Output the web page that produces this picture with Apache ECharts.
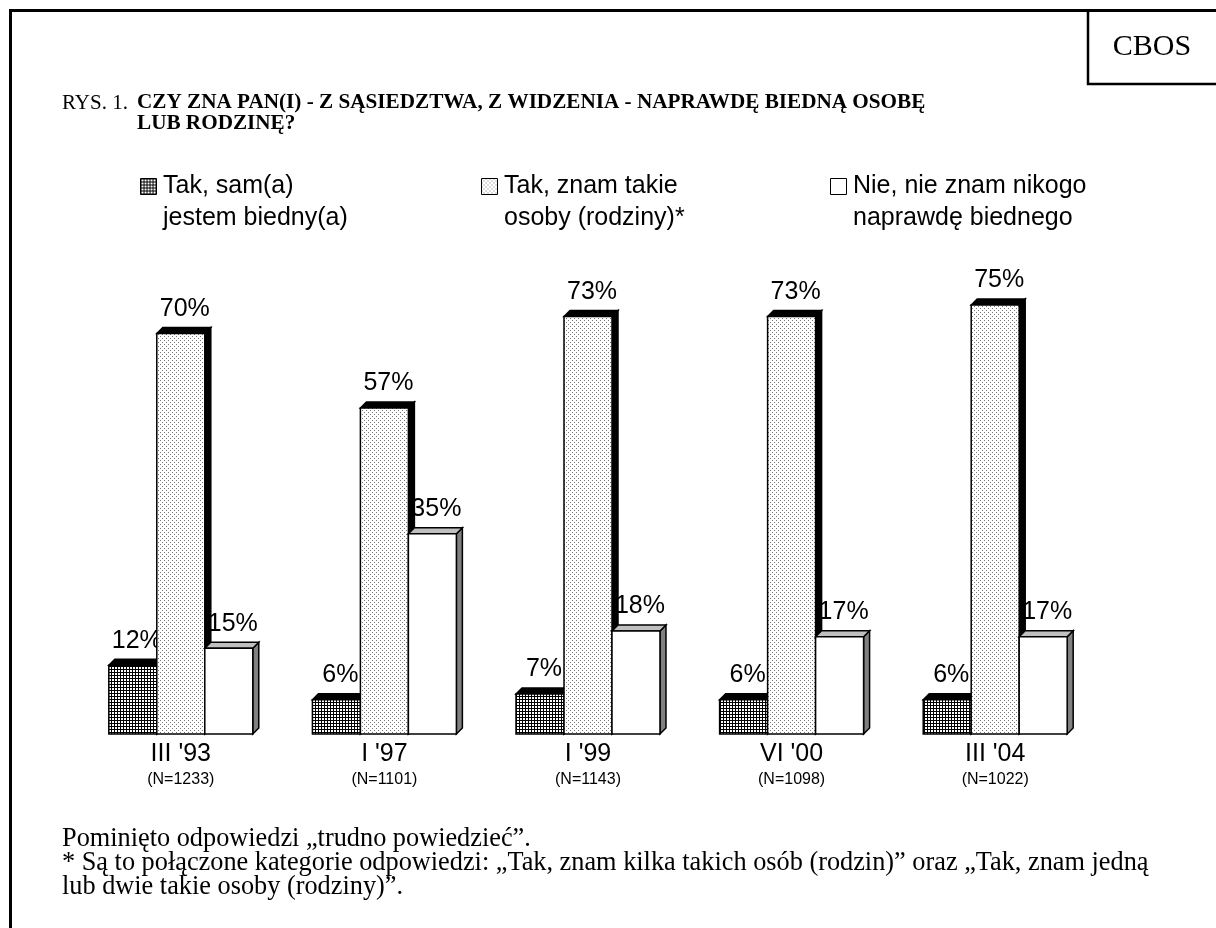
<!DOCTYPE html>
<html>
<head>
<meta charset="utf-8">
<script src="https://cdn.jsdelivr.net/npm/echarts@6/dist/echarts.min.js"></script>
<style>
html,body{margin:0;padding:0;background:#fff;}
#chart{width:1216px;height:928px;}
</style>
</head>
<body>
<div id="chart"></div>
<script>
// ---- data ----
const categories = ["III '93", "I '97", "I '99", "VI '00", "III '04"];
const sampleSizes = ["(N=1233)", "(N=1101)", "(N=1143)", "(N=1098)", "(N=1022)"];
const seriesNames = ["Tak, sam(a)\njestem biedny(a)", "Tak, znam takie\nosoby (rodziny)*", "Nie, nie znam nikogo\nnaprawdę biednego"];
const poorSelf = [12, 6, 7, 6, 6];
const knowPoor = [70, 57, 73, 73, 75];
const knowNone = [15, 35, 18, 17, 17];
const titlePrefix = "RYS. 1.";
const titleLines = ["CZY ZNA PAN(I) - Z SĄSIEDZTWA, Z WIDZENIA - NAPRAWDĘ BIEDNĄ OSOBĘ", "LUB RODZINĘ?"];
const footLines = ["Pominięto odpowiedzi „trudno powiedzieć”.",
  "* Są to połączone kategorie odpowiedzi: „Tak, znam kilka takich osób (rodzin)” oraz „Tak, znam jedną",
  "lub dwie takie osoby (rodziny)”."];
const brand = "CBOS";

// ---- patterns ----
function gridPattern() {
  const c = document.createElement('canvas'); c.width = 3; c.height = 3;
  const g = c.getContext('2d');
  g.fillStyle = '#fff'; g.fillRect(0, 0, 3, 3);
  g.fillStyle = '#000'; g.fillRect(0, 0, 3, 1); g.fillRect(0, 0, 1, 3);
  return { image: c, repeat: 'repeat' };
}
function dotPattern() {
  const c = document.createElement('canvas'); c.width = 4; c.height = 4;
  const g = c.getContext('2d');
  g.fillStyle = '#fff'; g.fillRect(0, 0, 4, 4);
  g.fillStyle = '#777'; g.fillRect(0, 0, 1, 1); g.fillRect(2, 2, 1, 1);
  return { image: c, repeat: 'repeat' };
}
const fills = [gridPattern(), dotPattern(), '#ffffff'];
const topFills = ['#000000', '#000000', '#c0c0c0'];
const sideFills = ['#000000', '#000000', '#808080'];

const LABEL_FONT = '25px "Liberation Sans", Arial, sans-serif';

function renderBar(params, api) {
  const si = params.seriesIndex;
  const cat = api.value(0), val = api.value(1);
  const base = api.coord([cat, 0]);
  const top = api.coord([cat, val]);
  const cw = api.size([1, 0])[0];
  const bw = cw * 0.2357;
  const d = 6;
  const x0 = base[0] + (si - 1.5) * bw;
  const x1 = x0 + bw;
  const ty = top[1], by = base[1];
  const stroke = { stroke: '#000', lineWidth: 1.5 };
  return {
    type: 'group',
    children: [
      { type: 'polygon', shape: { points: [[x1, ty], [x1 + d, ty - d], [x1 + d, by - d], [x1, by]] },
        style: Object.assign({ fill: sideFills[si] }, stroke) },
      { type: 'polygon', shape: { points: [[x0, ty], [x0 + d, ty - d], [x1 + d, ty - d], [x1, ty]] },
        style: Object.assign({ fill: topFills[si] }, stroke) },
      { type: 'rect', shape: { x: x0, y: ty, width: bw, height: by - ty },
        style: Object.assign({ fill: fills[si] }, stroke) },
      { type: 'text', style: { text: val + '%', x: x0 + bw / 2 + 4, y: ty - d - 6,
        align: 'center', verticalAlign: 'bottom', font: LABEL_FONT, fill: '#000' } }
    ]
  };
}

const dataSets = [poorSelf, knowPoor, knowNone];
const series = dataSets.map((arr, i) => ({
  type: 'custom',
  name: seriesNames[i],
  renderItem: renderBar,
  data: arr.map((v, j) => [j, v]),
  encode: { x: 0, y: 1 },
  z: 2 + i
}));

// ---- legend as graphic ----
const legendX = [140, 481, 830];
const graphics = [];
legendX.forEach((x, i) => {
  graphics.push({ type: 'rect', left: x, top: 178, shape: { width: 16, height: 16 },
    style: { fill: fills[i], stroke: '#000', lineWidth: 1 } });
  const lines = seriesNames[i].split('\n');
  lines.forEach((ln, k) => {
    graphics.push({ type: 'text', x: x + 23, y: 186 + k * 32,
      style: { text: ln, font: '25px "Liberation Sans", Arial, sans-serif', fill: '#000', align: 'left', verticalAlign: 'middle' } });
  });
});
// frame
graphics.push({ type: 'polyline', shape: { points: [[10.5, 928], [10.5, 10.5], [1216, 10.5]] },
  style: { stroke: '#000', lineWidth: 3, fill: null } });
graphics.push({ type: 'polyline', shape: { points: [[1088, 10.5], [1088, 84], [1216, 84]] },
  style: { stroke: '#000', lineWidth: 2.5, fill: null } });
graphics.push({ type: 'text', x: 1152, y: 47,
  style: { text: brand, font: '30px "Liberation Serif", "Times New Roman", serif', fill: '#000', align: 'center', verticalAlign: 'middle' } });
// title
graphics.push({ type: 'text', x: 62, y: 103,
  style: { text: titlePrefix, font: '21px "Liberation Serif", serif', fill: '#000', align: 'left', verticalAlign: 'middle' } });
titleLines.forEach((t, k) => {
  graphics.push({ type: 'text', x: 137, y: 103 + k * 21,
    style: { text: t, font: 'bold 21.2px "Liberation Serif", serif', fill: '#000', align: 'left', verticalAlign: 'middle' } });
});
// footer
footLines.forEach((t, k) => {
  graphics.push({ type: 'text', x: 62, y: 839 + k * 24,
    style: { text: t, font: '26.3px "Liberation Serif", serif', fill: '#000', align: 'left', verticalAlign: 'middle' } });
});

const chart = echarts.init(document.getElementById('chart'), null, { renderer: 'canvas' });
chart.setOption({
  animation: false,
  backgroundColor: '#fff',
  grid: { left: 79, width: 1018, top: 162, height: 572 },
  xAxis: {
    type: 'category',
    data: categories,
    axisLine: { show: false },
    axisTick: { show: false },
    axisLabel: {
      margin: 5,
      interval: 0,
      formatter: (v, i) => '{a|' + v + '}\n{b|' + sampleSizes[i] + '}',
      rich: {
        a: { fontSize: 25, lineHeight: 30, fontFamily: '"Liberation Sans", Arial', color: '#000' },
        b: { fontSize: 16, lineHeight: 22, fontFamily: '"Liberation Sans", Arial', color: '#000' }
      }
    }
  },
  yAxis: { type: 'value', min: 0, max: 100, show: false, splitLine: { show: false } },
  graphic: graphics,
  series: series
});
</script>
</body>
</html>
